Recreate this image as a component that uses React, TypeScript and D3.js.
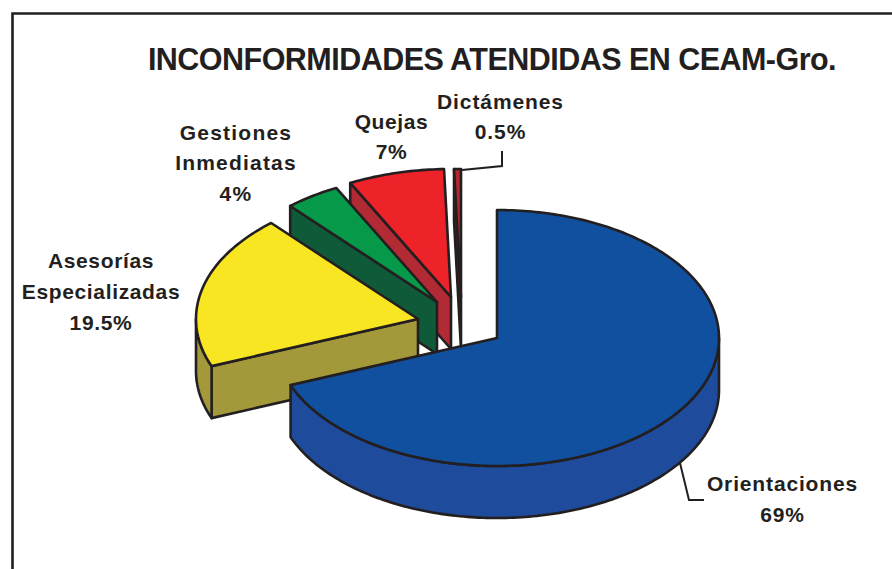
import React from "react";
import * as d3 from "d3";

const categories = ["Orientaciones", "Asesorías Especializadas", "Gestiones Inmediatas", "Quejas", "Dictámenes"];
const shares = [69, 19.5, 4, 7, 0.5];
const topColors = ["#114f9f", "#f9e622", "#07994a", "#ee2229", "#b5272f"];
const wallColors = ["#1f4b9d", "#a3983a", "#0f5a38", "#b12a34", "#8e2029"];
// how far each slice is pulled away from the pie centre
const pullX = [0, -79, -60, -46, -36];
const pullY = [0, -19, -36, -41, -41];
const INK = "#231f20";
const cx = 497, cy = 338, rx = 222, ry = 128, depth = 52;

const labelLines = [
  { lines: ["Orientaciones", "69%"], x: 782.5, y: [491, 522], spacing: 0.85 },
  { lines: ["Asesorías", "Especializadas", "19.5%"], x: 101, y: [268, 299, 330], spacing: 0.65 },
  { lines: ["Gestiones", "Inmediatas", "4%"], x: 236, y: [140, 170, 201], spacing: 1.2 },
  { lines: ["Quejas", "7%"], x: 391.5, y: [129, 159], spacing: 0.6 },
  { lines: ["Dictámenes", "0.5%"], x: 500.5, y: [109, 139], spacing: 0.9 },
];

const leaders: [number, number][][] = [
  [[680, 463], [689, 500], [704, 500]],
  [[462, 170], [502, 166], [502, 151]],
];

const arcs = d3.pie<number>().sort(null).startAngle(0).endAngle(2 * Math.PI)(shares);
const line = d3.line();
const rad = 180 / Math.PI;

function pt(a: number, ox: number, oy: number, dy = 0): [number, number] {
  return [ox + rx * Math.sin(a), oy - ry * Math.cos(a) + dy];
}
function arcPts(a0: number, a1: number, ox: number, oy: number, dy = 0) {
  const n = Math.max(2, Math.ceil(Math.abs(a1 - a0) * rad));
  return d3.range(n + 1).map((i) => pt(a0 + ((a1 - a0) * i) / n, ox, oy, dy));
}

export default function App() {
  const order = [4, 3, 2, 1, 0];
  return (
    <svg width={892} height={569} style={{ position: "absolute", left: 0, top: 0, background: "#fff" }}
      fontFamily="'Liberation Sans', Arial, sans-serif" fontWeight="bold" fill={INK}>
      <path d="M892 13.5H12.5V569" fill="none" stroke={INK} strokeWidth={2.6} />
      {order.map((i) => {
        const d = arcs[i];
        const ox = cx + pullX[i], oy = cy + pullY[i];
        const a0 = d.startAngle, a1 = d.endAngle;
        const top = [[ox, oy] as [number, number], ...arcPts(a0, a1, ox, oy)];
        const faces: [number, number][][] = [];
        // cut face on the start edge, seen for the slices on the left half
        if (a0 > Math.PI) {
          faces.push([[ox, oy], pt(a0, ox, oy), pt(a0, ox, oy, depth), [ox, oy + depth]]);
        }
        // outer wall: only the front half of the rim shows
        const wa0 = Math.max(a0, Math.PI / 2), wa1 = Math.min(a1, (3 * Math.PI) / 2);
        if (wa1 > wa0) {
          faces.push([...arcPts(wa0, wa1, ox, oy), ...arcPts(wa1, wa0, ox, oy, depth)]);
        }
        return (
          <g key={categories[i]} stroke={INK} strokeWidth={2.6} strokeLinejoin="round">
            {faces.map((f, k) => (
              <path key={k} d={line(f) + "Z"} fill={wallColors[i]} />
            ))}
            <path d={line(top) + "Z"} fill={topColors[i]} />
          </g>
        );
      })}
      {leaders.map((l, i) => (
        <path key={i} d={line(l) ?? ""} fill="none" stroke={INK} strokeWidth={2} />
      ))}
      <text x={492} y={69.5} textAnchor="middle" fontSize={30.5} letterSpacing={-0.53}>
        INCONFORMIDADES ATENDIDAS EN CEAM-Gro.
      </text>
      {labelLines.map((l) =>
        l.lines.map((t, k) => (
          <text key={t} x={l.x} y={l.y[k]} textAnchor="middle" fontSize={21} letterSpacing={l.spacing}>
            {t}
          </text>
        ))
      )}
    </svg>
  );
}
